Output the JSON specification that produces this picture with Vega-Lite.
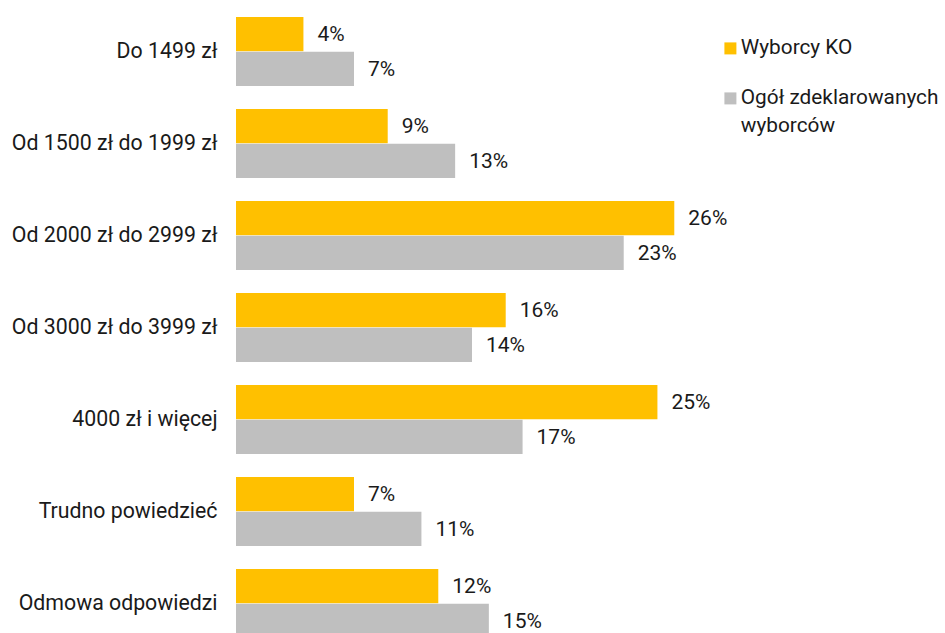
{
  "$schema": "https://vega.github.io/schema/vega-lite/v6.json",
  "autosize": {"type": "none"},
  "width": 472,
  "height": 621,
  "padding": {"left": 236, "top": 17, "right": 237, "bottom": 0},
  "background": "white",
  "config": {
    "font": "Roboto",
    "view": {"stroke": null}
  },
  "data": {
    "values": [
      {"kat": "Do 1499 zł", "seria": "Wyborcy KO", "v": 4},
      {"kat": "Do 1499 zł", "seria": "Ogół zdeklarowanych wyborców", "v": 7},
      {"kat": "Od 1500 zł do 1999 zł", "seria": "Wyborcy KO", "v": 9},
      {"kat": "Od 1500 zł do 1999 zł", "seria": "Ogół zdeklarowanych wyborców", "v": 13},
      {"kat": "Od 2000 zł do 2999 zł", "seria": "Wyborcy KO", "v": 26},
      {"kat": "Od 2000 zł do 2999 zł", "seria": "Ogół zdeklarowanych wyborców", "v": 23},
      {"kat": "Od 3000 zł do 3999 zł", "seria": "Wyborcy KO", "v": 16},
      {"kat": "Od 3000 zł do 3999 zł", "seria": "Ogół zdeklarowanych wyborców", "v": 14},
      {"kat": "4000 zł i więcej", "seria": "Wyborcy KO", "v": 25},
      {"kat": "4000 zł i więcej", "seria": "Ogół zdeklarowanych wyborców", "v": 17},
      {"kat": "Trudno powiedzieć", "seria": "Wyborcy KO", "v": 7},
      {"kat": "Trudno powiedzieć", "seria": "Ogół zdeklarowanych wyborców", "v": 11},
      {"kat": "Odmowa odpowiedzi", "seria": "Wyborcy KO", "v": 12},
      {"kat": "Odmowa odpowiedzi", "seria": "Ogół zdeklarowanych wyborców", "v": 15}
    ]
  },
  "encoding": {
    "y": {
      "field": "kat",
      "type": "nominal",
      "sort": null,
      "scale": {"paddingInner": 0.25, "paddingOuter": 0},
      "axis": {
        "title": null,
        "domain": false,
        "ticks": false,
        "labelFontSize": 21.3,
        "labelColor": "#1a1a1a",
        "labelPadding": 19,
        "labelFont": "Roboto",
        "labelLimit": 300
      }
    },
    "yOffset": {
      "field": "seria",
      "type": "nominal",
      "sort": ["Wyborcy KO", "Ogół zdeklarowanych wyborców"],
      "scale": {"paddingInner": 0.02, "paddingOuter": 0}
    },
    "x": {
      "field": "v",
      "type": "quantitative",
      "scale": {"domain": [0, 28], "nice": false},
      "axis": null
    }
  },
  "layer": [
    {
      "mark": {"type": "bar"},
      "encoding": {
        "color": {
          "field": "seria",
          "type": "nominal",
          "sort": ["Wyborcy KO", "Ogół zdeklarowanych wyborców"],
          "scale": {"domain": ["Wyborcy KO", "Ogół zdeklarowanych wyborców"], "range": ["#FFC000", "#BFBFBF"]},
          "legend": {
            "title": null,
            "orient": "none",
            "legendX": 484,
            "legendY": 21,
            "symbolType": "square",
            "symbolSize": 144,
            "symbolStrokeWidth": 0,
            "labelFontSize": 20.8,
            "labelFont": "Roboto",
            "labelColor": "#1a1a1a",
            "labelLimit": 300,
            "labelOffset": 0,
            "rowPadding": 28,
            "labelExpr": "datum.label == 'Ogół zdeklarowanych wyborców' ? ['Ogół zdeklarowanych', 'wyborców'] : datum.label",
            "encode": {"labels": {"update": {"lineHeight": {"value": 28}}}}
          }
        }
      }
    },
    {
      "mark": {"type": "text", "align": "left", "baseline": "middle", "dx": 14, "dy": 1, "fontSize": 21, "font": "Roboto", "color": "#1a1a1a"},
      "encoding": {
        "text": {"value": {"expr": "datum.v + '%'"}},
        "detail": {"field": "seria"}
      }
    }
  ]
}
